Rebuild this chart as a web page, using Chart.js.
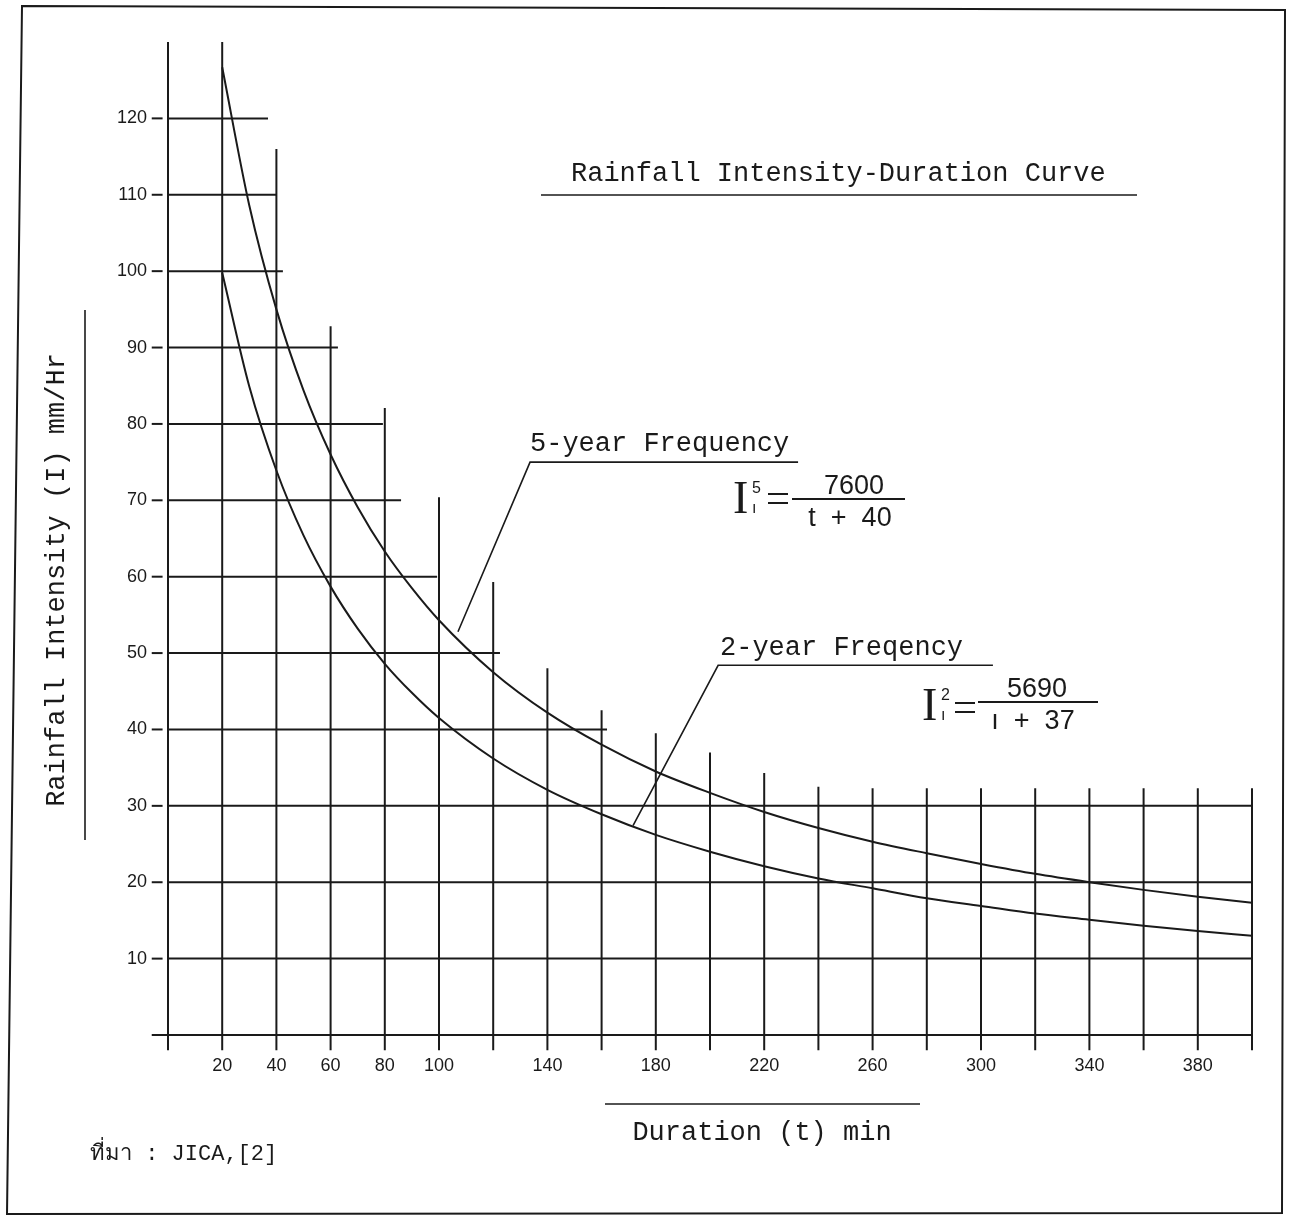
<!DOCTYPE html>
<html>
<head>
<meta charset="utf-8">
<title>Rainfall Intensity-Duration Curve</title>
<script src="https://cdn.jsdelivr.net/npm/chart.js@4.4.1/dist/chart.umd.min.js"></script>
<style>
  html, body { margin: 0; padding: 0; background: #fff; }
  #wrap { width: 1289px; height: 1215px; position: relative; }
</style>
</head>
<body>
<div id="wrap"><canvas id="idf" width="1289" height="1215"></canvas></div>
<script>
// Values (duration in min, intensity in mm/Hr)
var durations = [20, 30, 40, 50, 60, 70, 80, 90, 100, 120, 140, 160, 180, 200, 220, 240, 260, 280, 300, 320, 340, 360, 380, 400];
var fiveYearIntensity = [126.7, 108.6, 95.0, 84.4, 76.0, 69.1, 63.3, 58.5, 54.3, 47.5, 42.2, 38.0, 34.5, 31.7, 29.2, 27.1, 25.3, 23.8, 22.4, 21.1, 20.0, 19.0, 18.1, 17.3];
var twoYearIntensity = [99.8, 84.9, 73.9, 65.4, 58.7, 53.2, 48.6, 44.8, 41.5, 36.2, 32.1, 28.9, 26.2, 24.0, 22.1, 20.5, 19.2, 17.9, 16.9, 15.9, 15.1, 14.3, 13.6, 13.0];

// tick labels
var xTickValues = [20, 40, 60, 80, 100, 140, 180, 220, 260, 300, 340, 380];
var yTickValues = [10, 20, 30, 40, 50, 60, 70, 80, 90, 100, 110, 120];

// hand-drawn grid: each vertical line has its own top, each horizontal line its own end
var gridDurations = [0, 20, 40, 60, 80, 100, 120, 140, 160, 180, 200, 220, 240, 260, 280, 300, 320, 340, 360, 380, 400];
var gridDurationTops = [130, 130, 116, 92.8, 82.1, 70.4, 59.3, 48, 42.5, 39.5, 37, 34.3, 32.5, 32.3, 32.3, 32.3, 32.3, 32.3, 32.3, 32.3, 32.3];
var gridIntensities = [0, 10, 20, 30, 40, 50, 60, 70, 80, 90, 100, 110, 120];
var gridIntensityEnds = [400, 400, 400, 400, 162, 122.5, 99.3, 86, 79.3, 62.7, 42.4, 39.9, 36.9];

var ink = "#1a1a1a";
var mono = "'Liberation Mono', 'DejaVu Sans Mono', monospace";
var sans = "'Liberation Sans', 'DejaVu Sans', sans-serif";
var serif = "'Liberation Serif', 'DejaVu Serif', serif";

function toPoints(xs, ys) {
  return xs.map(function(x, i) { return { x: x, y: ys[i] }; });
}

// leader lines from the curves to their labels, in data units
var leaders = [
  [{ x: 107, y: 52.8 }, { x: 133.6, y: 75 }, { x: 232.5, y: 75 }],
  [{ x: 171.6, y: 27.4 }, { x: 203, y: 48.4 }, { x: 304.4, y: 48.4 }]
];

function seg(ctx, x1, y1, x2, y2) {
  ctx.beginPath(); ctx.moveTo(x1, y1); ctx.lineTo(x2, y2); ctx.stroke();
}

function drawFormula(ctx, f) {
  ctx.fillStyle = ink;
  ctx.textBaseline = "alphabetic";
  ctx.textAlign = "left";
  ctx.font = "46px " + serif;
  ctx.fillText("I", f.ix, f.iy);
  ctx.font = "16px " + sans;
  ctx.fillText(f.sup, f.ix + 19, f.iy - 20);
  ctx.fillText("\u0131", f.ix + 19, f.iy);
  ctx.lineWidth = 2;
  seg(ctx, f.eqx, f.eqy - 4, f.eqx + 20, f.eqy - 4);
  seg(ctx, f.eqx, f.eqy + 5, f.eqx + 20, f.eqy + 5);
  seg(ctx, f.bx1, f.by, f.bx2, f.by);
  ctx.textAlign = "center";
  ctx.font = "27px " + sans;
  ctx.fillText(f.num, f.nx, f.by - 5);
  ctx.fillText(f.den, f.nx - 4, f.by + 27);
}

var paperPlugin = {
  id: "paper",
  beforeDraw: function(chart) {
    var ctx = chart.ctx;
    ctx.save();
    ctx.fillStyle = "#fff";
    ctx.fillRect(0, 0, chart.width, chart.height);
    ctx.restore();
  },
  beforeDatasetsDraw: function(chart) {
    var ctx = chart.ctx, xs = chart.scales.x, ys = chart.scales.y;
    ctx.save();
    ctx.strokeStyle = ink;
    ctx.lineWidth = 2;
    gridDurations.forEach(function(d, i) {
      var px = xs.getPixelForValue(d);
      seg(ctx, px, ys.getPixelForValue(-2), px, ys.getPixelForValue(gridDurationTops[i]));
    });
    gridIntensities.forEach(function(v, i) {
      var py = ys.getPixelForValue(v);
      seg(ctx, xs.getPixelForValue(v === 0 ? -6 : 0), py, xs.getPixelForValue(gridIntensityEnds[i]), py);
    });
    yTickValues.forEach(function(v) {
      var py = ys.getPixelForValue(v);
      seg(ctx, xs.getPixelForValue(-6), py, xs.getPixelForValue(-2), py);
    });
    ctx.restore();
  },
  afterDraw: function(chart) {
    var ctx = chart.ctx, xs = chart.scales.x, ys = chart.scales.y;
    ctx.save();
    ctx.strokeStyle = ink;
    ctx.fillStyle = ink;
    ctx.lineWidth = 1.6;

    // leader lines
    leaders.forEach(function(pts) {
      ctx.beginPath();
      pts.forEach(function(p, i) {
        var px = xs.getPixelForValue(p.x), py = ys.getPixelForValue(p.y);
        if (i === 0) ctx.moveTo(px, py); else ctx.lineTo(px, py);
      });
      ctx.stroke();
    });

    ctx.font = "27px " + mono;
    ctx.textBaseline = "alphabetic";
    ctx.textAlign = "left";
    ctx.fillText("Rainfall Intensity-Duration Curve", 571, 181);
    seg(ctx, 541, 195, 1137, 195);
    ctx.fillText("5-year Frequency", 530, 451);
    ctx.fillText("2-year Freqency", 720, 655);

    // x axis title
    ctx.textAlign = "center";
    ctx.fillText("Duration (t) min", 762, 1140);
    seg(ctx, 605, 1104, 920, 1104);

    // y axis title
    ctx.save();
    ctx.translate(57, 580);
    ctx.rotate(-Math.PI / 2);
    ctx.textBaseline = "middle";
    ctx.fillText("Rainfall Intensity (I) mm/Hr", 0, 0);
    ctx.restore();
    seg(ctx, 85, 310, 85, 840);

    // formulas
    drawFormula(ctx, { ix: 733, iy: 513, sup: "5", eqx: 768, eqy: 498, bx1: 792, bx2: 905, by: 499, num: "7600", den: "t  +  40", nx: 854 });
    drawFormula(ctx, { ix: 922, iy: 720, sup: "2", eqx: 955, eqy: 707, bx1: 978, bx2: 1098, by: 702, num: "5690", den: "\u0131  +  37", nx: 1037 });

    // source
    ctx.textAlign = "left";
    ctx.textBaseline = "alphabetic";
    ctx.font = "22px " + mono;
    ctx.fillText("\u0e17\u0e35\u0e48\u0e21\u0e32 : JICA,[2]", 90, 1160);

    // page frame (slightly skewed scan)
    ctx.lineWidth = 2;
    ctx.beginPath();
    ctx.moveTo(22, 6);
    ctx.lineTo(1285, 10);
    ctx.lineTo(1282, 1213);
    ctx.lineTo(7, 1214);
    ctx.closePath();
    ctx.stroke();
    ctx.restore();
  }
};

new Chart(document.getElementById("idf").getContext("2d"), {
  type: "line",
  data: {
    datasets: [
      { label: "5-year Frequency", data: toPoints(durations, fiveYearIntensity), borderColor: ink, borderWidth: 2, pointRadius: 0, cubicInterpolationMode: "monotone", fill: false },
      { label: "2-year Freqency", data: toPoints(durations, twoYearIntensity), borderColor: ink, borderWidth: 2, pointRadius: 0, cubicInterpolationMode: "monotone", fill: false }
    ]
  },
  options: {
    responsive: false,
    animation: false,
    devicePixelRatio: 1,
    layout: { padding: { left: 108, right: 37, top: 42, bottom: 120 } },
    plugins: { legend: { display: false }, tooltip: { enabled: false } },
    scales: {
      x: {
        type: "linear",
        min: 0,
        max: 400,
        grid: { display: false, drawTicks: false },
        border: { display: false },
        afterBuildTicks: function(s) { s.ticks = xTickValues.map(function(v) { return { value: v }; }); },
        afterFit: function(s) { s.height = 60; },
        ticks: {
          autoSkip: false, maxRotation: 0, padding: 20, color: ink,
          font: { family: sans, size: 18 },
          callback: function(v) { return String(v); }
        }
      },
      y: {
        type: "linear",
        min: 0,
        max: 130,
        grid: { display: false, drawTicks: false },
        border: { display: false },
        afterBuildTicks: function(s) { s.ticks = yTickValues.map(function(v) { return { value: v }; }); },
        afterFit: function(s) { s.width = 60; },
        ticks: {
          autoSkip: false, padding: 21, color: ink,
          font: { family: sans, size: 18 },
          callback: function(v) { return String(v); }
        }
      }
    }
  },
  plugins: [paperPlugin]
});
</script>
</body>
</html>
